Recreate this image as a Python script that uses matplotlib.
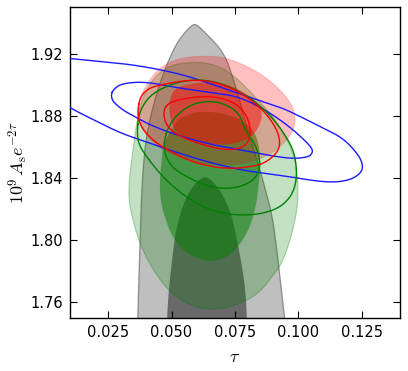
import numpy as np
import matplotlib
matplotlib.use("Agg")
import matplotlib.pyplot as plt

plt.rcParams['mathtext.fontset'] = 'cm'
plt.rcParams['font.family'] = ['DejaVu Sans']

# ---- contour outlines (tau, 1e9 As e^{-2tau}) ----
gray_outer_x = [0.0366, 0.0367, 0.0371, 0.0377, 0.0384, 0.0397, 0.0417, 0.0449, 0.0489, 0.0528, 0.0581,
                0.0600, 0.0633, 0.0673, 0.0712, 0.0740, 0.0768, 0.0795, 0.0820, 0.0845, 0.0870, 0.0896,
                0.0915, 0.0930, 0.0946, 0.0948]
gray_outer_y = [1.740, 1.7497, 1.7722, 1.8044, 1.8377, 1.8624, 1.8796, 1.8990, 1.9161, 1.9290, 1.9387,
                1.9387, 1.9333, 1.9269, 1.9183, 1.9054, 1.8904, 1.8732, 1.8603, 1.8474, 1.8324, 1.8163,
                1.7937, 1.7722, 1.7497, 1.740]

gray_inner_x = [0.0481, 0.0482, 0.0489, 0.0502, 0.0515, 0.0541, 0.0581, 0.0627, 0.0659, 0.0699, 0.0735,
                0.0758, 0.0778, 0.0791, 0.0797, 0.0798]
gray_inner_y = [1.740, 1.7497, 1.7679, 1.7873, 1.8044, 1.8216, 1.8345, 1.8414, 1.8388, 1.8302, 1.8173,
                1.8002, 1.7830, 1.7679, 1.7497, 1.740]

green_outer_x = [0.0528, 0.0627, 0.0725, 0.0856, 0.0928, 0.0968, 0.0988, 0.0998, 0.0998, 0.0990, 0.0968,
                 0.0935, 0.0896, 0.0850, 0.0778, 0.0673, 0.0581, 0.0489, 0.0423, 0.0377, 0.0347, 0.0331,
                 0.0334, 0.0347, 0.0358, 0.0377, 0.0423, 0.0476]
green_outer_y = [1.9138, 1.9148, 1.9095, 1.8880, 1.8732, 1.8603, 1.8506, 1.8377, 1.8259, 1.8152, 1.8002,
                 1.7851, 1.7765, 1.7669, 1.7593, 1.7550, 1.7572, 1.7669, 1.7819, 1.7969, 1.8130, 1.8259,
                 1.8410, 1.8560, 1.8710, 1.8882, 1.9032, 1.9108]

green_inner_x = [0.0509, 0.0528, 0.0581, 0.0633, 0.0699, 0.0764, 0.0817, 0.0837, 0.0847, 0.0850, 0.0843,
                 0.0830, 0.0804, 0.0764, 0.0712, 0.0646, 0.0568, 0.0509, 0.0476, 0.0456, 0.0453, 0.0463,
                 0.0465, 0.0482]
green_inner_y = [1.8732, 1.8785, 1.8818, 1.8828, 1.8818, 1.8785, 1.8721, 1.8657, 1.8581, 1.8474, 1.8345,
                 1.8195, 1.8066, 1.7959, 1.7883, 1.7862, 1.7905, 1.8002, 1.8130, 1.8259, 1.8388, 1.8538,
                 1.8603, 1.8667]

red_outer_x = [0.0449, 0.0528, 0.0607, 0.0699, 0.0791, 0.0869, 0.0922, 0.0961, 0.0985, 0.0988, 0.0974,
               0.0955, 0.0909, 0.0843, 0.0764, 0.0659, 0.0554, 0.0463, 0.0404, 0.0371, 0.0364, 0.0377,
               0.0410]
red_outer_y = [1.9108, 1.9170, 1.9185, 1.9181, 1.9127, 1.9052, 1.8977, 1.8904, 1.8828, 1.8753, 1.8689,
               1.8646, 1.8571, 1.8517, 1.8485, 1.8485, 1.8517, 1.8581, 1.8667, 1.8753, 1.8833, 1.8925,
               1.9022]

red_inner_x = [0.0495, 0.0515, 0.0581, 0.0659, 0.0725, 0.0791, 0.0843, 0.0859, 0.0843, 0.0810, 0.0751,
               0.0673, 0.0594, 0.0535, 0.0502, 0.0489]
red_inner_y = [1.8925, 1.8979, 1.9011, 1.9015, 1.9000, 1.8947, 1.8882, 1.8807, 1.8721, 1.8657, 1.8620,
               1.8614, 1.8629, 1.8667, 1.8732, 1.8839]

# line contours
blue_outer_x = [0.0003, 0.0095, 0.0226, 0.0358, 0.0528, 0.0646, 0.0778, 0.0909, 0.0961, 0.1093, 0.1171,
                0.1224, 0.1253, 0.1250, 0.1198, 0.1106, 0.0961, 0.0791, 0.0659, 0.0528, 0.0423, 0.0305,
                0.0213, 0.0121, 0.0095, 0.0003]
blue_outer_y = [1.9179, 1.9170, 1.9148, 1.9127, 1.9073, 1.9011, 1.8936, 1.8865, 1.8833, 1.8725, 1.8661,
                1.8575, 1.8500, 1.8435, 1.8382, 1.8371, 1.8410, 1.8446, 1.8496, 1.8560, 1.8620, 1.8685,
                1.8758, 1.8833, 1.8859, 1.8942]

blue_inner_x = [0.0262, 0.0272, 0.0305, 0.0397, 0.0528, 0.0646, 0.0764, 0.0869, 0.0961, 0.1027, 0.1053,
                0.1056, 0.1040, 0.0961, 0.0791, 0.0659, 0.0528, 0.0423, 0.0358, 0.0312, 0.0279, 0.0266]
blue_inner_y = [1.8936, 1.8972, 1.9009, 1.9020, 1.8979, 1.8953, 1.8925, 1.8839, 1.8736, 1.8639, 1.8592,
                1.8564, 1.8534, 1.8523, 1.8575, 1.8614, 1.8672, 1.8736, 1.8792, 1.8833, 1.8876, 1.8904]

greenl_outer_x = [0.0364, 0.0371, 0.0410, 0.0476, 0.0554, 0.0633, 0.0712, 0.0791, 0.0869, 0.0935, 0.0981,
                  0.0994, 0.0988, 0.0961, 0.0909, 0.0830, 0.0738, 0.0646, 0.0554, 0.0476, 0.0410, 0.0371]
greenl_outer_y = [1.8689, 1.8818, 1.8925, 1.8990, 1.9028, 1.9032, 1.9000, 1.8936, 1.8839, 1.8710, 1.8581,
                  1.8453, 1.8345, 1.8259, 1.8195, 1.8163, 1.8163, 1.8195, 1.8281, 1.8388, 1.8517, 1.8614]

greenl_inner_x = [0.0469, 0.0476, 0.0509, 0.0554, 0.0607, 0.0686, 0.0764, 0.0791, 0.0830, 0.0850, 0.0843,
                  0.0804, 0.0725, 0.0633, 0.0528, 0.0489]
greenl_inner_y = [1.8581, 1.8689, 1.8785, 1.8850, 1.8889, 1.8893, 1.8828, 1.8704, 1.8618, 1.8511, 1.8427,
                  1.8362, 1.8328, 1.8349, 1.8435, 1.8496]

redl_outer_x = [0.0367, 0.0377, 0.0410, 0.0449, 0.0528, 0.0607, 0.0686, 0.0764, 0.0830, 0.0883, 0.0922,
                0.0928, 0.0896, 0.0843, 0.0725, 0.0607, 0.0528, 0.0449, 0.0397, 0.0371]
redl_outer_y = [1.8839, 1.8925, 1.8977, 1.8996, 1.9022, 1.9032, 1.9011, 1.8957, 1.8882, 1.8796, 1.8689,
                1.8596, 1.8528, 1.8479, 1.8457, 1.8489, 1.8543, 1.8614, 1.8689, 1.8764]

redl_inner_x = [0.0469, 0.0489, 0.0528, 0.0607, 0.0686, 0.0751, 0.0791, 0.0810, 0.0810, 0.0791, 0.0725,
                0.0607, 0.0528, 0.0489, 0.0472]
redl_inner_y = [1.8839, 1.8882, 1.8904, 1.8925, 1.8921, 1.8882, 1.8818, 1.8732, 1.8667, 1.8603, 1.8575,
                1.8620, 1.8672, 1.8721, 1.8775]

x_ticks = [0.025, 0.050, 0.075, 0.100, 0.125]
y_ticks = [1.76, 1.80, 1.84, 1.88, 1.92]


def smooth(xs, ys, closed=True, n_iter=3):
    """Chaikin corner cutting to render outlines smoothly."""
    p = np.column_stack([xs, ys]).astype(float)
    for _ in range(n_iter):
        q = np.roll(p, -1, axis=0) if closed else p[1:]
        a = p if closed else p[:-1]
        new = np.empty((2 * len(a), 2))
        new[0::2] = 0.75 * a + 0.25 * q
        new[1::2] = 0.25 * a + 0.75 * q
        p = new
    return p[:, 0], p[:, 1]


fig = plt.figure(figsize=(4.08, 3.71), dpi=100)
ax = fig.add_axes([70 / 408, 53 / 371, 330 / 408, 311 / 371])

# gray (filled)
sx, sy = smooth(gray_outer_x, gray_outer_y)
ax.fill(sx, sy, facecolor='#808080', alpha=0.5, edgecolor='none', zorder=1)
ax.plot(np.append(sx, sx[0]), np.append(sy, sy[0]), color='#777777', lw=0.9, alpha=0.8, zorder=1.1)
sx, sy = smooth(gray_inner_x, gray_inner_y)
ax.fill(sx, sy, facecolor='#000000', alpha=0.45, edgecolor='none', zorder=1.2)

# green (filled)
sx, sy = smooth(green_outer_x, green_outer_y)
ax.fill(sx, sy, facecolor='green', alpha=0.24, edgecolor='none', zorder=2)
ax.plot(np.append(sx, sx[0]), np.append(sy, sy[0]), color='green', lw=0.8, alpha=0.3, zorder=2.1)
sx, sy = smooth(green_inner_x, green_inner_y)
ax.fill(sx, sy, facecolor='green', alpha=0.5, edgecolor='none', zorder=2.2)

# red (filled)
sx, sy = smooth(red_outer_x, red_outer_y)
ax.fill(sx, sy, facecolor='red', alpha=0.25, edgecolor='none', zorder=3)
ax.plot(np.append(sx, sx[0]), np.append(sy, sy[0]), color='red', lw=0.8, alpha=0.15, zorder=3.1)
sx, sy = smooth(red_inner_x, red_inner_y)
ax.fill(sx, sy, facecolor='red', alpha=0.47, edgecolor='none', zorder=3.2)

# line contours
for xs, ys, c in [(blue_outer_x, blue_outer_y, '#1a1aff'), (blue_inner_x, blue_inner_y, '#1a1aff'),
                  (greenl_outer_x, greenl_outer_y, '#008000'), (greenl_inner_x, greenl_inner_y, '#008000'),
                  (redl_outer_x, redl_outer_y, '#ff0000'), (redl_inner_x, redl_inner_y, '#ff0000')]:
    sx, sy = smooth(xs, ys)
    ax.plot(np.append(sx, sx[0]), np.append(sy, sy[0]), color=c, lw=1.0, zorder=4)

ax.set_xlim(0.01, 0.14)
ax.set_ylim(1.75, 1.95)
ax.set_xticks(x_ticks)
ax.set_yticks(y_ticks)
ax.set_xticklabels([f"{v:.3f}" for v in x_ticks])
ax.set_yticklabels([f"{v:.2f}" for v in y_ticks])
ax.tick_params(direction='in', length=5, width=0.8, top=True, right=True, labelsize=10.5, pad=5)
for s in ax.spines.values():
    s.set_linewidth(1.0)

ax.set_xlabel(r'$\tau$', fontsize=13, labelpad=6)
ax.set_ylabel(r'$10^9\,A_{\rm s}e^{-2\tau}$', fontsize=13, labelpad=0)

fig.savefig('out.png', dpi=100)
